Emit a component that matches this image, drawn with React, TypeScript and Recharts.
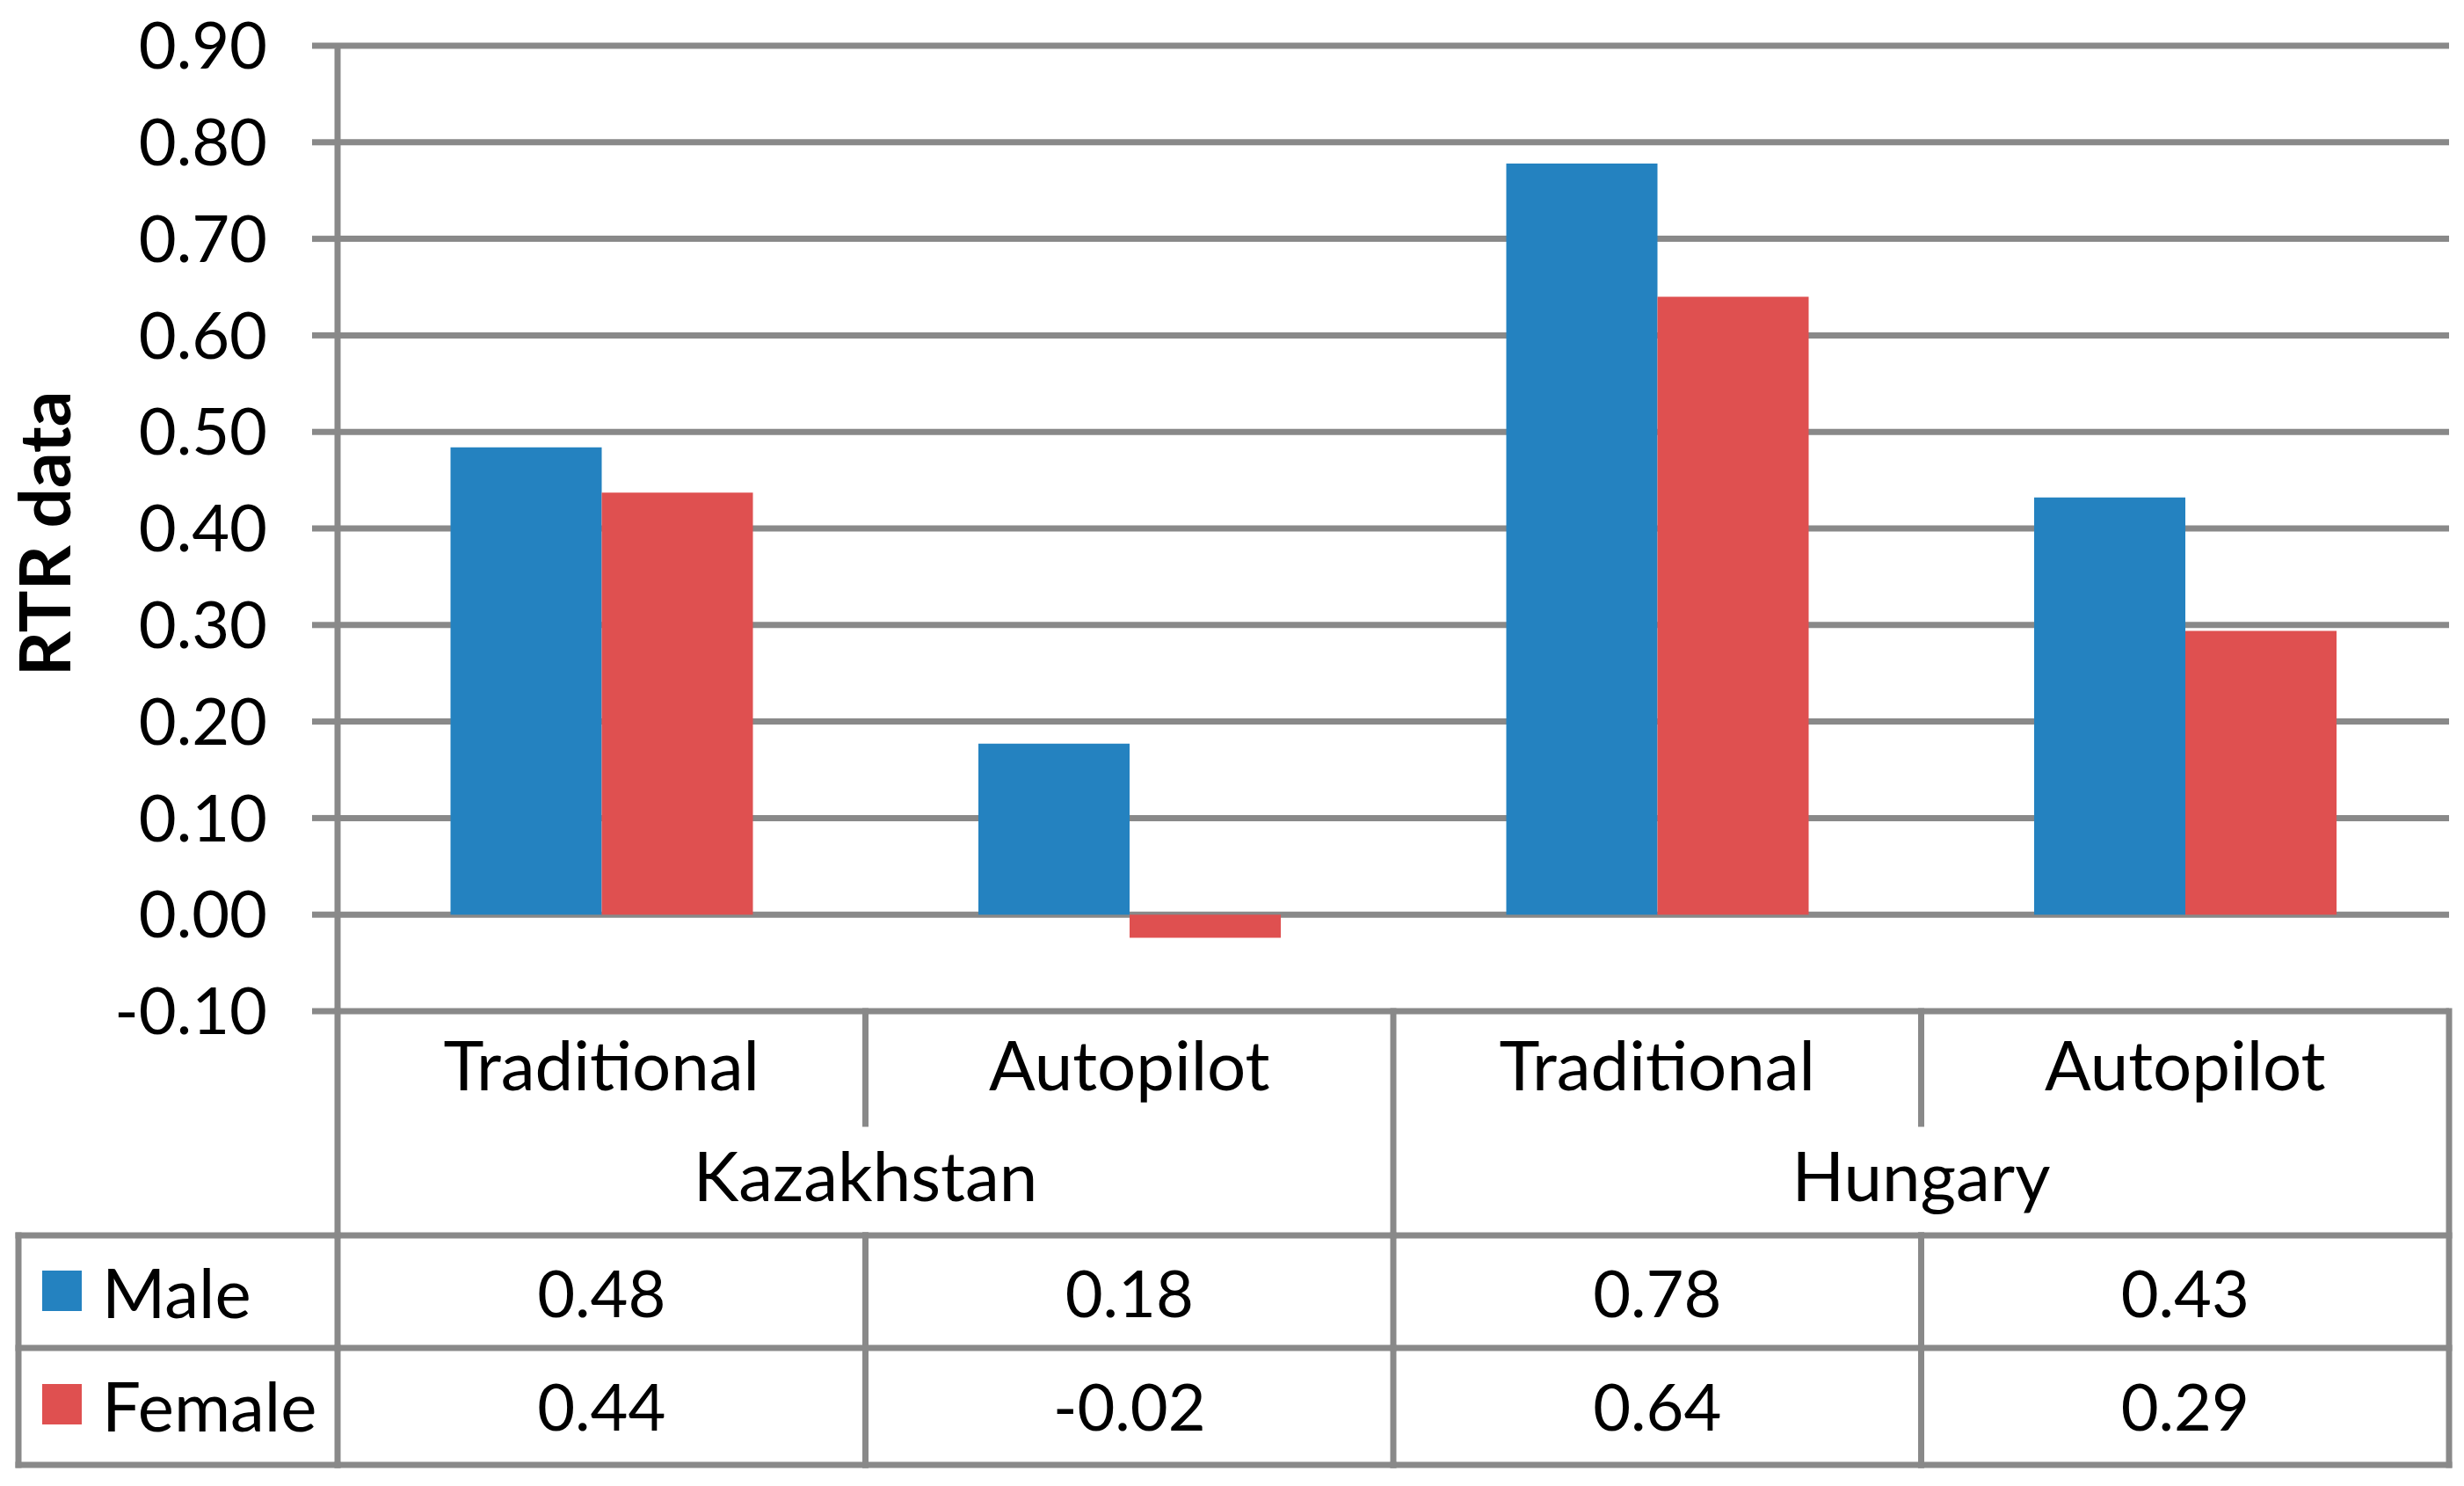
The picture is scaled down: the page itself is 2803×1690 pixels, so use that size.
import React from 'react';
import { BarChart, Bar, XAxis, YAxis, CartesianGrid } from 'recharts';

// ---- data ----
const categories = ['Traditional', 'Autopilot', 'Traditional', 'Autopilot'];
const groups = ['Kazakhstan', 'Kazakhstan', 'Hungary', 'Hungary'];
const maleValues = [0.484, 0.177, 0.778, 0.432];
const femaleValues = [0.437, -0.024, 0.64, 0.294];
const seriesNames = ['Male', 'Female'];
const seriesColors = ['#2482C0', '#DF5050'];
const yTicks = [-0.1, 0, 0.1, 0.2, 0.3, 0.4, 0.5, 0.6, 0.7, 0.8, 0.9];
const yTitle = 'RTR data';

const data = categories.map((c, i) => ({
  key: `${groups[i]}-${c}`,
  Male: maleValues[i],
  Female: femaleValues[i],
}));

// ---- layout ----
const W = 2803;
const H = 1690;
const ML = 384;
const MR = 17;
const MT = 52;
const MB = 540;
const PLOT_W = W - ML - MR;
const BAND = PLOT_W / categories.length;
const FONT = 'Lato, "Noto Sans", sans-serif';
const FS = 74;
const FS_LABEL = 78;
const GRID = '#898989';
const SW = 7;

const CAT_Y = 60;
const CAT_DIV_END = 128;
const GROUP_Y = 186;
const ROW1_TOP = 255;
const ROW1_Y = 319;
const ROW2_TOP = 383;
const ROW2_Y = 448;
const TABLE_BOTTOM = 516;
const KEY_LEFT = 21;

const lineProps = { stroke: GRID, strokeWidth: SW, strokeLinecap: 'square' as const };
const textProps = {
  fontFamily: FONT,
  fontSize: FS,
  fill: '#000',
  textAnchor: 'middle' as const,
  dominantBaseline: 'central' as const,
};

function TableTick(props: any) {
  const { x, y, index } = props;
  const base = y;
  const lx = x - BAND / 2;
  const rx = x + BAND / 2;
  const els: any[] = [];
  const rows = [ROW1_TOP, ROW2_TOP, TABLE_BOTTOM];
  rows.forEach((r, k) => {
    els.push(<line key={`h${k}`} x1={lx} x2={rx} y1={base + r} y2={base + r} {...lineProps} />);
  });
  if (index === 0) {
    els.push(<line key="axisext" x1={lx} x2={lx} y1={base} y2={base + TABLE_BOTTOM} {...lineProps} />);
    rows.forEach((r, k) => {
      els.push(<line key={`kh${k}`} x1={KEY_LEFT} x2={lx} y1={base + r} y2={base + r} {...lineProps} />);
    });
    els.push(<line key="kl" x1={KEY_LEFT} x2={KEY_LEFT} y1={base + ROW1_TOP} y2={base + TABLE_BOTTOM} {...lineProps} />);
    const rowCenters = [ROW1_Y, ROW2_Y];
    seriesNames.forEach((n, k) => {
      const cy = base + rowCenters[k];
      els.push(<rect key={`sq${k}`} x={48} y={cy - 24} width={45} height={46} fill={seriesColors[k]} />);
      els.push(
        <text key={`sn${k}`} {...textProps} fontSize={FS_LABEL} textAnchor="start" x={116} y={cy}>
          {n}
        </text>
      );
    });
  }
  const lastInGroup = index === categories.length - 1 || groups[index + 1] !== groups[index];
  if (lastInGroup) {
    els.push(<line key="rv" x1={rx} x2={rx} y1={base} y2={base + TABLE_BOTTOM} {...lineProps} />);
  } else {
    els.push(<line key="rv1" x1={rx} x2={rx} y1={base} y2={base + CAT_DIV_END} {...lineProps} />);
    els.push(<line key="rv2" x1={rx} x2={rx} y1={base + ROW1_TOP} y2={base + TABLE_BOTTOM} {...lineProps} />);
  }
  els.push(
    <text key="cat" {...textProps} fontSize={FS_LABEL} x={x} y={base + CAT_Y}>
      {categories[index]}
    </text>
  );
  const firstInGroup = index === 0 || groups[index - 1] !== groups[index];
  if (firstInGroup) {
    let n = 0;
    while (index + n < groups.length && groups[index + n] === groups[index]) n++;
    els.push(
      <text key="grp" {...textProps} fontSize={FS_LABEL} x={lx + (n * BAND) / 2} y={base + GROUP_Y}>
        {groups[index]}
      </text>
    );
  }
  els.push(
    <text key="mv" {...textProps} x={x} y={base + ROW1_Y}>
      {maleValues[index].toFixed(2)}
    </text>
  );
  els.push(
    <text key="fv" {...textProps} x={x} y={base + ROW2_Y}>
      {femaleValues[index].toFixed(2)}
    </text>
  );
  return <g>{els}</g>;
}

function YTitle(props: any) {
  const vb = props.viewBox || { x: 0, y: MT, width: ML, height: H - MT - MB };
  const cx = vb.x + 80;
  const cy = vb.y + vb.height / 2 + 6;
  return (
    <text
      x={cx}
      y={cy}
      transform={`rotate(-90 ${cx} ${cy})`}
      fontFamily={FONT}
      fontWeight="bold"
      fontSize={80}
      fill="#000"
      textAnchor="middle"
    >
      {yTitle}
    </text>
  );
}

export default function App() {
  return (
    <div style={{ position: 'absolute', left: 0, top: 0, width: W, height: H, background: '#fff' }}>
      <BarChart
        width={W}
        height={H}
        data={data}
        margin={{ top: MT, right: MR, bottom: 0, left: 0 }}
        barGap={0}
        barCategoryGap="21.4%"
      >
        <CartesianGrid vertical={false} stroke={GRID} strokeWidth={SW} />
        <XAxis
          dataKey="key"
          height={MB}
          interval={0}
          axisLine={false}
          tickLine={false}
          tickSize={0}
          tickMargin={0}
          tick={<TableTick />}
        />
        <YAxis
          width={ML}
          domain={[-0.1, 0.9]}
          ticks={yTicks}
          interval={0}
          allowDataOverflow
          tickSize={29}
          tickMargin={51}
          tickFormatter={(v: number) => v.toFixed(2)}
          tick={{ fontSize: FS, fill: '#000', fontFamily: FONT }}
          axisLine={{ stroke: GRID, strokeWidth: SW }}
          tickLine={{ stroke: GRID, strokeWidth: SW }}
          label={<YTitle />}
        />
        <Bar dataKey="Male" fill={seriesColors[0]} isAnimationActive={false} />
        <Bar dataKey="Female" fill={seriesColors[1]} isAnimationActive={false} />
      </BarChart>
    </div>
  );
}
